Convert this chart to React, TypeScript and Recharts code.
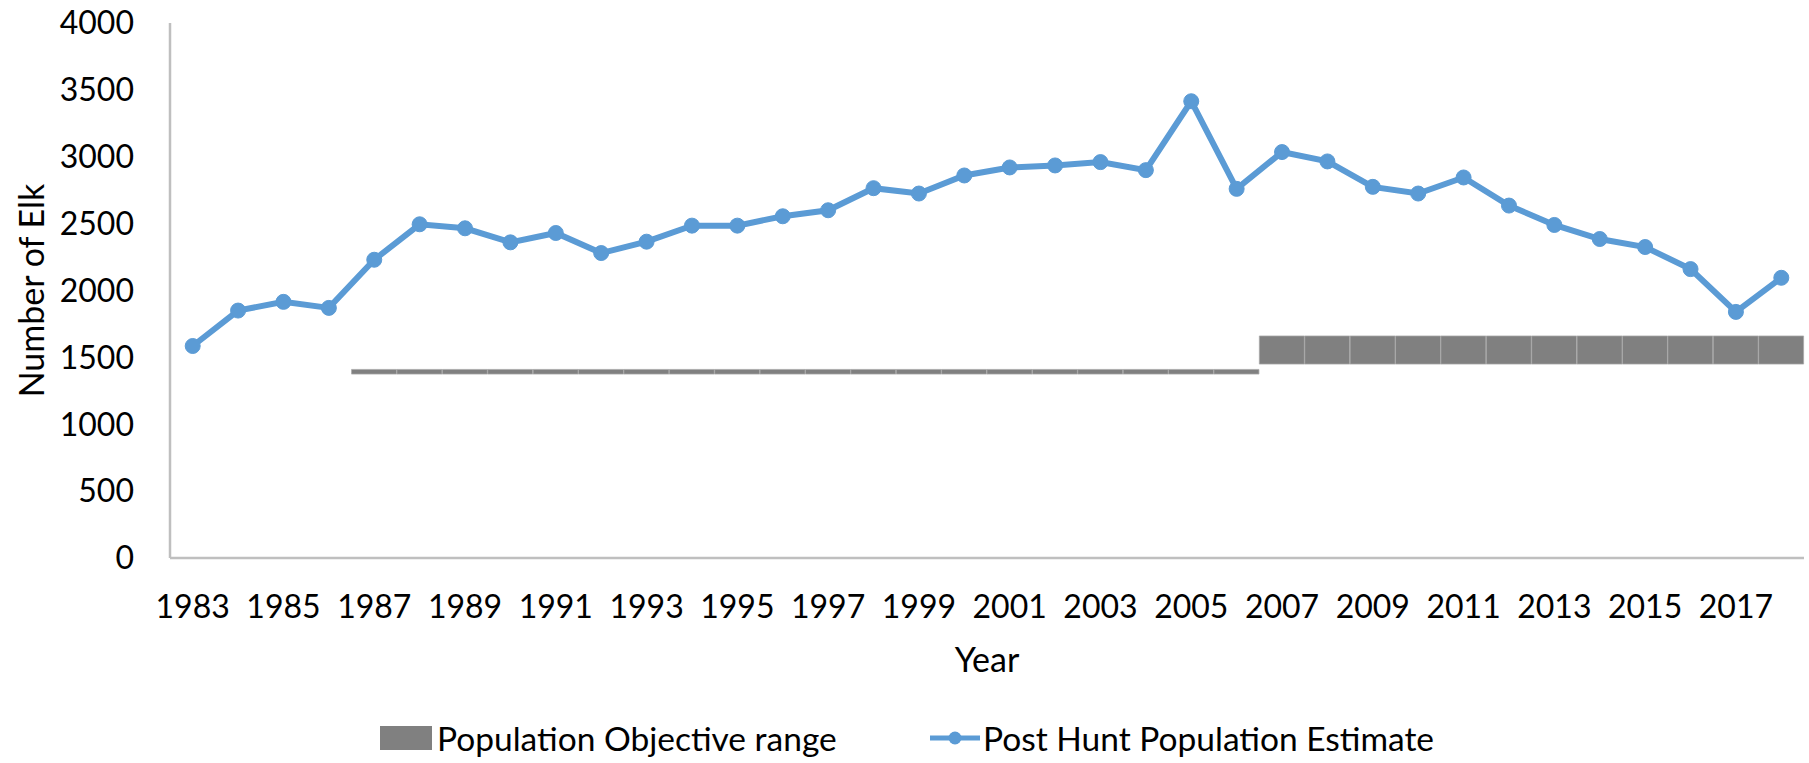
import { ComposedChart, Bar, Line, XAxis, YAxis } from "recharts";

document.body.style.margin = "0";

const FONT = "Lato, 'Open Sans', sans-serif";
const BLUE = "#5B9BD5";
const GRAY = "#808080";
const AXIS = "#BFBFBF";

const years = [
  "1983", "1984", "1985", "1986", "1987", "1988", "1989", "1990", "1991",
  "1992", "1993", "1994", "1995", "1996", "1997", "1998", "1999", "2000",
  "2001", "2002", "2003", "2004", "2005", "2006", "2007", "2008", "2009",
  "2010", "2011", "2012", "2013", "2014", "2015", "2016", "2017", "2018",
];

// Post hunt population estimate
const postHunt = [
  1585, 1850, 1915, 1870, 2230, 2495, 2465, 2360, 2430, 2280, 2365, 2485,
  2485, 2555, 2600, 2765, 2725, 2860, 2920, 2935, 2960, 2900, 3415, 2760,
  3035, 2965, 2775, 2725, 2845, 2635, 2490, 2385, 2325, 2160, 1840, 2095,
];

// Population objective range: lower and upper bound per year
const objectiveLow = [
  null, null, null, null, 1375, 1375, 1375, 1375, 1375, 1375, 1375, 1375,
  1375, 1375, 1375, 1375, 1375, 1375, 1375, 1375, 1375, 1375, 1375, 1375,
  1450, 1450, 1450, 1450, 1450, 1450, 1450, 1450, 1450, 1450, 1450, 1450,
];
const objectiveHigh = [
  null, null, null, null, 1410, 1410, 1410, 1410, 1410, 1410, 1410, 1410,
  1410, 1410, 1410, 1410, 1410, 1410, 1410, 1410, 1410, 1410, 1410, 1410,
  1660, 1660, 1660, 1660, 1660, 1660, 1660, 1660, 1660, 1660, 1660, 1660,
];

const yTicks = [0, 500, 1000, 1500, 2000, 2500, 3000, 3500, 4000];

const data = years.map((year, i) => ({
  year,
  postHunt: postHunt[i],
  objBase: objectiveLow[i],
  objSpan:
    objectiveLow[i] == null || objectiveHigh[i] == null
      ? null
      : (objectiveHigh[i] as number) - (objectiveLow[i] as number),
}));

function YTitle({ viewBox }: any) {
  const cx = 30;
  const cy = viewBox.y + viewBox.height / 2;
  return (
    <text
      x={cx}
      y={cy}
      transform={`rotate(-90 ${cx} ${cy})`}
      textAnchor="middle"
      dominantBaseline="central"
      fontSize={34}
      fontFamily={FONT}
      fill="#000"
    >
      Number of Elk
    </text>
  );
}

function XTitle({ viewBox }: any) {
  return (
    <text
      x={viewBox.x + viewBox.width / 2}
      y={viewBox.y + 100}
      textAnchor="middle"
      dominantBaseline="central"
      fontSize={34}
      fontFamily={FONT}
      fill="#000"
    >
      Year
    </text>
  );
}

function ChartLegend() {
  return (
    <div
      style={{
        position: "absolute",
        top: 716,
        left: 0,
        width: 1809,
        height: 44,
        fontFamily: FONT,
        fontSize: 33.5,
        color: "#000",
      }}
    >
      <div style={{ position: "absolute", left: 380, top: 10, width: 52, height: 24, background: GRAY }} />
      <div style={{ position: "absolute", left: 437, top: 0, lineHeight: "44px", whiteSpace: "nowrap" }}>
        Population Objective range
      </div>
      <svg style={{ position: "absolute", left: 928, top: 0 }} width={54} height={44}>
        <line x1={2} y1={22} x2={52} y2={22} stroke={BLUE} strokeWidth={5} />
        <circle cx={27} cy={22} r={6.5} fill={BLUE} />
      </svg>
      <div style={{ position: "absolute", left: 983, top: 0, lineHeight: "44px", whiteSpace: "nowrap" }}>
        Post Hunt Population Estimate
      </div>
    </div>
  );
}

export default function App() {
  return (
    <div style={{ position: "relative", width: 1809, height: 763, background: "#fff" }}>
      <ComposedChart
        width={1809}
        height={763}
        data={data}
        margin={{ top: 23, right: 5, left: 0, bottom: 105 }}
        barCategoryGap={0}
        barGap={0}
      >
        <XAxis
          dataKey="year"
          interval={1}
          tickLine={false}
          tickSize={0}
          tickMargin={37}
          height={100}
          axisLine={{ stroke: AXIS, strokeWidth: 2.5 }}
          tick={{ fontSize: 32, fill: "#000", fontFamily: FONT }}
          label={<XTitle />}
        />
        <YAxis
          width={170}
          domain={[0, 4000]}
          ticks={yTicks}
          interval={0}
          tickLine={false}
          tickSize={0}
          tickMargin={36}
          axisLine={{ stroke: AXIS, strokeWidth: 2.5 }}
          tick={{ fontSize: 32, fill: "#000", fontFamily: FONT }}
          label={<YTitle />}
        />
        <Bar dataKey="objBase" stackId="obj" fill="transparent" isAnimationActive={false} />
        <Bar
          dataKey="objSpan"
          stackId="obj"
          fill={GRAY}
          stroke="#A8A8A8"
          strokeWidth={0.75}
          isAnimationActive={false}
        />
        <Line
          type="linear"
          dataKey="postHunt"
          stroke={BLUE}
          strokeWidth={6}
          dot={{ r: 7.5, fill: BLUE, stroke: BLUE, strokeWidth: 1 }}
          activeDot={false}
          isAnimationActive={false}
        />
      </ComposedChart>
      <ChartLegend />
    </div>
  );
}
